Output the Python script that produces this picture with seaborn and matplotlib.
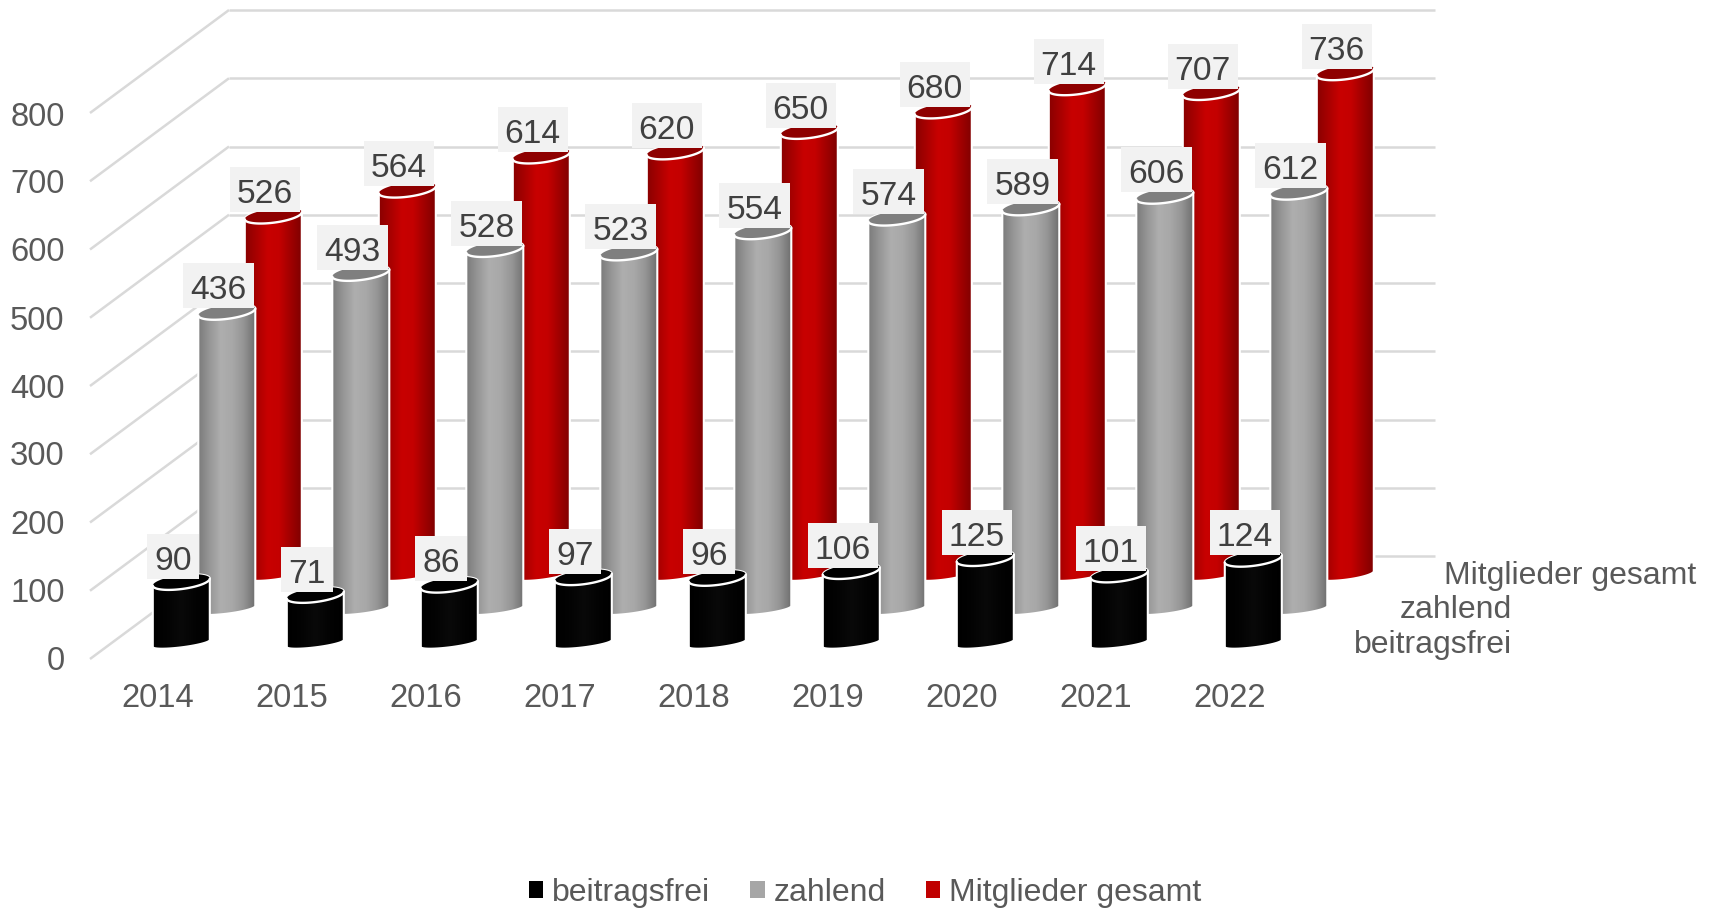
import numpy as np
import pandas as pd
import matplotlib
matplotlib.use("Agg")
import matplotlib.pyplot as plt
import seaborn as sns
from matplotlib.colors import LinearSegmentedColormap
from matplotlib.patches import Patch, Polygon, Rectangle
from matplotlib.transforms import IdentityTransform

years = ["2014", "2015", "2016", "2017", "2018", "2019", "2020", "2021", "2022"]
beitragsfrei = [90, 71, 86, 97, 96, 106, 125, 101, 124]
zahlend = [436, 493, 528, 523, 554, 574, 589, 606, 612]
gesamt = [526, 564, 614, 620, 650, 680, 714, 707, 736]
y_ticks = [0, 100, 200, 300, 400, 500, 600, 700, 800]
series_names = ["beitragsfrei", "zahlend", "Mitglieder gesamt"]

W, H = 1719, 909
STEP = 134.0      # px per category
SCALE = 0.6825    # px per member
GRID = "#D9D9D9"
TXT = "#595959"
FS = 23.0
FS_TICK = 23.6
FS_LABEL = 24.2

sns.set_theme(style="white")
plt.rcParams["font.family"] = ["Liberation Sans", "DejaVu Sans"]

fig = plt.figure(figsize=(W / 100, H / 100), dpi=100, facecolor="white")

# pixel-space helper axes for the 3-D walls
bg = fig.add_axes([0, 0, 1, 1])
bg.set_xlim(0, W)
bg.set_ylim(H, 0)
bg.axis("off")
FRONT_X, BACK_X, RIGHT_X = 90, 229, 1435
FRONT_0, BACK_0 = 659, 556
for t in y_ticks:
    yf, yb = FRONT_0 - SCALE * t, BACK_0 - SCALE * t
    bg.plot([FRONT_X, BACK_X], [yf, yb], color=GRID, lw=1.8, solid_capstyle="butt")
    bg.plot([BACK_X if t else 1375, RIGHT_X], [yb, yb], color=GRID, lw=1.8, solid_capstyle="butt")


def depth_axes(center0, base):
    left = center0 - STEP / 2
    bottom = base + 40 * SCALE
    ax = fig.add_axes([left / W, 1 - bottom / H, 9 * STEP / W, 940 * SCALE / H])
    ax.patch.set_alpha(0)
    return ax


def cylinders(ax, values, name, base_col, stops, top_col, bottom_flat):
    df = pd.DataFrame({"Jahr": years, "Wert": values})
    sns.barplot(data=df, x="Jahr", y="Wert", ax=ax, width=57 / STEP, color=base_col,
                saturation=1, errorbar=None)
    ax.set_xlim(-0.5, 8.5)
    ax.set_ylim(-40, 900)
    cmap = LinearSegmentedColormap.from_list(name, stops)
    grad = np.linspace(0, 1, 256).reshape(1, -1)
    b, s = 7.0 / SCALE, 3.5 / SCALE
    for bar, v in zip(list(ax.patches), values):
        a = bar.get_width() / 2
        c = bar.get_x() + a
        t = np.linspace(np.pi, 2 * np.pi, 50)       # lower arc, left to right
        low_x = c + a * np.cos(t)
        low_off = b * np.sin(t) + s * np.cos(t)
        up_x = low_x[::-1]
        up_off = -b * np.sin(t[::-1]) + s * np.cos(t[::-1])
        bot_off = bottom_flat * b * np.sin(t) + s * np.cos(t)
        sil = np.column_stack([np.r_[low_x, up_x], np.r_[bot_off, v + up_off]])
        clip = Polygon(sil, closed=True, transform=ax.transData, fc="none",
                       ec="white", lw=1.5, zorder=4, clip_on=False)
        ax.add_patch(clip)
        bar.set_clip_path(clip)
        im = ax.imshow(grad, cmap=cmap, aspect="auto", zorder=3, interpolation="bilinear",
                       extent=(c - a, c + a, -30, v + 20))
        im.set_clip_path(clip)
        top = np.column_stack([np.r_[low_x, up_x], np.r_[v + low_off, v + up_off]])
        ax.add_patch(Polygon(top, closed=True, fc=top_col, ec="none", zorder=5))
        ax.plot(low_x, v + low_off, color="white", lw=1.7, zorder=6, solid_capstyle="round")
        # value label: grey box plus text, both placed relative to the bar top
        px, py = ax.transData.transform((c, v))
        text = str(v)
        bw, bh = 18.8 * len(text) + 14, 45
        ax.add_patch(Rectangle((px - 8.5 - bw / 2, py + 26 - bh / 2), bw, bh,
                               transform=IdentityTransform(), fc="#F2F2F2", ec="none",
                               zorder=7, clip_on=False))
        ax.annotate(text, (c, v), xytext=(-8.5, 21), textcoords="offset pixels",
                    ha="center", va="center", fontsize=FS_LABEL, color="#404040", zorder=8)
    ax.set_xlim(-0.5, 8.5)
    ax.set_ylim(-40, 900)
    ax.axis("off")


ax_red = depth_axes(273.3, 574.7)
cylinders(ax_red, gesamt, "red", "#C00000",
          ["#8A0000", "#A80000", "#C80000", "#C40000", "#A00000", "#7E0000"], "#8E0000", 0.72)
ax_grey = depth_axes(226.8, 609.5)
cylinders(ax_grey, zahlend, "grey", "#A6A6A6",
          ["#7A7A7A", "#969696", "#AEAEAE", "#A8A8A8", "#959595", "#707070"], "#7F7F7F", 0.6)
ax_black = depth_axes(181.3, 643.5)
cylinders(ax_black, beitragsfrei, "black", "#000000",
          ["#000000", "#030303", "#090909", "#030303", "#000000"], "#000000", 0.55)

# axis labels on the front plane
ax_front = fig.add_axes([(158 - STEP / 2) / W, 1 - 657.5 / H, 9 * STEP / W, 800 * 0.68 / H])
ax_front.patch.set_alpha(0)
ax_front.set_xlim(-0.5, 8.5)
ax_front.set_ylim(0, 800)
ax_front.set_xticks(range(len(years)), years)
ax_front.set_yticks(y_ticks, [str(t) for t in y_ticks])
ax_front.tick_params(axis="both", length=0, labelsize=FS_TICK, labelcolor=TXT)
ax_front.tick_params(axis="y", pad=19)
ax_front.tick_params(axis="x", pad=18.5)
for sp in ax_front.spines.values():
    sp.set_visible(False)

# series names on the depth axis
over = fig.add_axes([0, 0, 1, 1])
over.set_xlim(0, W)
over.set_ylim(H, 0)
over.axis("off")
for name, xr, yc in zip(series_names, [1512, 1512, 1696], [645, 610, 576]):
    over.text(xr, yc, name, ha="right", va="center", fontsize=FS, color=TXT)

handles = [Patch(fc=c, ec="none", label=n) for c, n in zip(["#000000", "#A6A6A6", "#C00000"], series_names)]
fig.legend(handles=handles, loc="center", bbox_to_anchor=(865 / W, 1 - 893 / H), ncol=3,
           frameon=False, fontsize=FS, labelcolor=TXT, handlelength=0.45, handleheight=0.45,
           handletextpad=0.28, columnspacing=1.25, borderpad=0, borderaxespad=0)

fig.savefig("out.png", dpi=100, facecolor="white")
